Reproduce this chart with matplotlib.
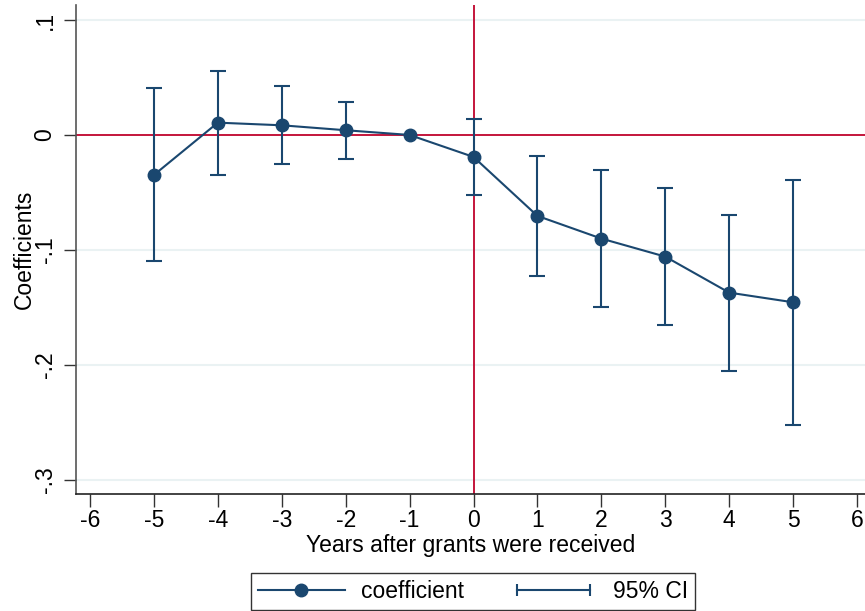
import matplotlib
matplotlib.use("Agg")
import matplotlib.pyplot as plt
from matplotlib.lines import Line2D
from matplotlib.legend_handler import HandlerLine2D

plt.rcParams['font.family'] = ['Liberation Sans', 'DejaVu Sans']

years = [-5, -4, -3, -2, -1, 0, 1, 2, 3, 4, 5]
coef = [-0.0348, 0.0107, 0.0084, 0.0041, 0.0, -0.0191, -0.0704, -0.0901, -0.1058, -0.1371, -0.1455]
ci_low = [-0.1099, -0.0345, -0.0252, -0.0211, None, -0.0519, -0.1226, -0.1499, -0.1655, -0.2049, -0.2525]
ci_high = [0.0406, 0.0560, 0.0426, 0.0287, None, 0.0136, -0.0183, -0.0307, -0.0461, -0.0693, -0.0388]
xticks = [-6, -5, -4, -3, -2, -1, 0, 1, 2, 3, 4, 5, 6]
yticks = [-0.3, -0.2, -0.1, 0.0, 0.1]
ytick_labels = ['-.3', '-.2', '-.1', '0', '.1']

navy = '#1A476F'
red = '#C4153B'
grid = '#EAF2F3'
FS = 16.5

fig = plt.figure(figsize=(8.65, 6.11), dpi=100)
ax = fig.add_axes([76/865, 1-494/611, 789/865, 489/611])

for yv in yticks:
    if yv != 0:
        ax.axhline(yv, color=grid, lw=1.5, zorder=0)

ax.axhline(0, color=red, lw=1.4, zorder=1)
ax.axvline(0, color=red, lw=1.4, zorder=1)

for x, lo, hi in zip(years, ci_low, ci_high):
    if lo is None:
        continue
    ax.errorbar([x], [(lo + hi) / 2], yerr=[[(hi - lo) / 2], [(hi - lo) / 2]],
                fmt='none', ecolor=navy, elinewidth=1.5, capsize=5.5, capthick=1.5, zorder=2)

ax.plot(years, coef, color=navy, lw=1.5, marker='o', markersize=9, zorder=3)

ax.set_xlim(-6.219, 6.125)
ax.set_ylim(-0.3122, 0.113)
ax.set_xticks(xticks)
ax.set_xticklabels([str(v) for v in xticks])
ax.set_yticks(yticks)
ax.set_yticklabels(ytick_labels, rotation=90, va='center')
ax.tick_params(axis='both', length=9, width=1.0, labelsize=FS, color='#333333')
ax.tick_params(axis='x', pad=2)
ax.tick_params(axis='y', pad=5)

for s in ['top', 'right']:
    ax.spines[s].set_visible(False)
ax.spines['left'].set_color('#555555')
ax.spines['bottom'].set_color('#222222')
ax.spines['left'].set_linewidth(1.2)
ax.spines['bottom'].set_linewidth(1.2)

ax.set_xlabel('Years after grants were received', fontsize=FS, labelpad=1)
ax.set_ylabel('Coefficients', fontsize=FS, labelpad=-1.5)

h_coef = Line2D([], [], color=navy, lw=1.5, marker='o', markersize=9)
h_ci = Line2D([], [], color=navy, lw=1.5, marker='|', markersize=9, markeredgewidth=1.5)
leg = fig.legend([h_coef, h_ci], ['coefficient', '95% CI'], loc='lower center',
                 bbox_to_anchor=(473/865, 1.5/611), ncol=2, fontsize=FS, frameon=True,
                 fancybox=False, edgecolor='black', handlelength=3.8, handletextpad=0.7,
                 columnspacing=2.0, borderpad=0.3, borderaxespad=0,
                 handler_map={h_coef: HandlerLine2D(numpoints=1), h_ci: HandlerLine2D(numpoints=2)})
leg.get_frame().set_linewidth(1.0)

fig.savefig('out.png', dpi=100)
